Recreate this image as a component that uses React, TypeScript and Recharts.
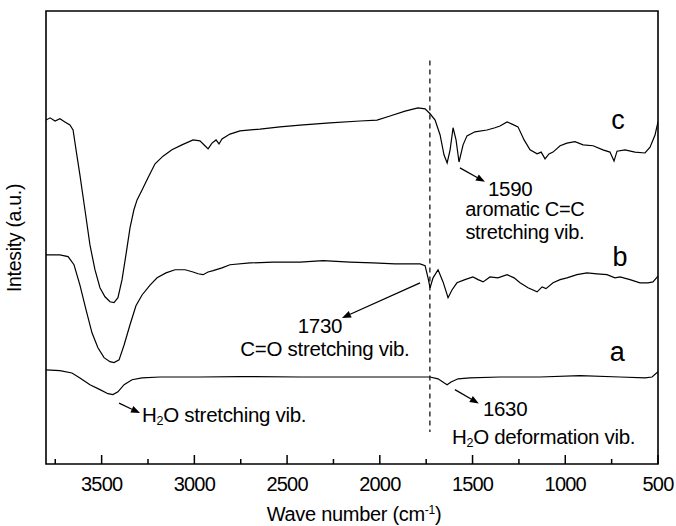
import React from "react"
import { LineChart, Line, XAxis, YAxis, ReferenceArea, ReferenceLine, ReferenceDot } from "recharts"

// FTIR spectra, wave number (cm-1) vs intensity (a.u., offset curves)
const wavenumbersC = [3800, 3778, 3751, 3725, 3698, 3671, 3654, 3638, 3617, 3590, 3563, 3536, 3509, 3482, 3455, 3433, 3412, 3390, 3369, 3347, 3326, 3309, 3282, 3250, 3212, 3169, 3121, 3067, 3007, 2970, 2943, 2926, 2905, 2883, 2867, 2851, 2808, 2754, 2646, 2538, 2430, 2269, 2107, 2015, 1945, 1864, 1794, 1756, 1729, 1702, 1675, 1654, 1637, 1621, 1605, 1589, 1573, 1551, 1530, 1487, 1422, 1379, 1352, 1314, 1287, 1255, 1222, 1190, 1152, 1130, 1109, 1088, 1066, 1028, 991, 948, 904, 850, 797, 759, 737, 721, 678, 624, 570, 543, 516, 500]
const intensityC = [75.8, 76.3, 75.6, 76.1, 75.4, 74.7, 73.6, 69.2, 63.6, 55.9, 48.1, 42.6, 38.6, 36.6, 35.5, 35.3, 36.4, 40.4, 45.9, 51.9, 55.9, 58.1, 60.3, 63.0, 66.1, 67.8, 69.2, 70.3, 71.4, 71.2, 70.1, 69.4, 70.7, 71.4, 70.5, 71.6, 72.7, 73.4, 73.8, 74.3, 74.7, 75.2, 75.6, 75.8, 76.7, 77.8, 78.5, 78.3, 77.2, 75.8, 72.5, 68.1, 66.3, 69.2, 74.1, 71.4, 66.5, 70.3, 72.3, 73.2, 73.6, 74.1, 74.5, 75.4, 74.9, 74.3, 71.4, 69.2, 68.3, 68.7, 67.2, 68.3, 68.7, 70.1, 70.7, 71.0, 70.3, 70.1, 69.2, 68.7, 66.7, 68.9, 69.2, 68.7, 68.5, 69.8, 72.5, 75.4]

const wavenumbersB = [3800, 3725, 3681, 3649, 3617, 3584, 3552, 3520, 3487, 3455, 3433, 3406, 3379, 3347, 3315, 3282, 3239, 3201, 3153, 3104, 3050, 3007, 2980, 2953, 2926, 2899, 2851, 2808, 2700, 2576, 2430, 2306, 2161, 2037, 1918, 1783, 1756, 1740, 1729, 1713, 1686, 1659, 1632, 1611, 1584, 1541, 1498, 1470, 1443, 1406, 1363, 1314, 1276, 1244, 1201, 1152, 1125, 1104, 1066, 1028, 991, 937, 883, 829, 775, 732, 705, 651, 597, 554, 527, 500]
const intensityB = [45.9, 45.9, 45.5, 43.7, 39.2, 33.7, 28.6, 25.3, 23.1, 22.2, 22.0, 22.6, 25.9, 30.4, 34.6, 37.0, 39.2, 40.8, 41.9, 42.6, 42.6, 42.1, 41.7, 41.5, 42.1, 42.4, 43.0, 43.7, 44.1, 44.3, 44.3, 44.6, 44.3, 44.1, 43.9, 43.9, 43.5, 40.8, 38.6, 40.8, 42.6, 39.9, 36.4, 38.1, 39.7, 40.4, 41.0, 40.4, 39.9, 41.0, 40.8, 41.5, 40.8, 39.7, 38.6, 37.7, 38.8, 38.4, 39.7, 40.4, 40.8, 41.5, 41.9, 41.7, 41.5, 40.8, 41.0, 40.4, 39.7, 39.7, 39.9, 41.2]

const wavenumbersA = [3800, 3725, 3660, 3617, 3563, 3509, 3466, 3439, 3412, 3379, 3336, 3282, 3185, 2970, 2754, 2430, 2107, 1783, 1729, 1686, 1654, 1637, 1616, 1578, 1514, 1352, 1136, 921, 705, 570, 532, 500]
const intensityA = [20.4, 20.2, 19.7, 18.6, 17.1, 16.0, 15.1, 14.9, 15.5, 17.1, 18.2, 18.6, 18.8, 18.8, 18.9, 18.8, 18.8, 18.8, 18.8, 18.4, 17.5, 17.1, 17.7, 18.4, 18.6, 18.8, 18.8, 19.1, 18.8, 18.6, 18.8, 20.0]

const xTicks = [3750, 3500, 3250, 3000, 2750, 2500, 2250, 2000, 1750, 1500, 1250, 1000, 750, 500]

const toSeries = (wn: number[], v: number[]) => wn.map((w, i) => ({ wn: w, v: v[i] }))
const seriesA = toSeries(wavenumbersA, intensityA)
const seriesB = toSeries(wavenumbersB, intensityB)
const seriesC = toSeries(wavenumbersC, intensityC)

const W = 676
const H = 526
const MARGIN = { top: 11, right: 18, bottom: 22, left: 46 }
const X_AXIS_H = 40
const PLOT_BOTTOM = H - MARGIN.bottom - X_AXIS_H
const FONT = "'Liberation Sans', Arial, sans-serif"

function Tick(props: any) {
  const { x, payload } = props
  const major = payload.value % 500 === 0
  return (
    <g>
      <line x1={x} x2={x} y1={PLOT_BOTTOM} y2={PLOT_BOTTOM - (major ? 9 : 5)} stroke="#000" strokeWidth={1.5} />
      {major && (
        <text x={x} y={PLOT_BOTTOM + 27} textAnchor="middle" fontFamily={FONT} fontSize={20} letterSpacing={-0.8} fill="#000">
          {payload.value}
        </text>
      )}
    </g>
  )
}

function arrow(props: any) {
  const { x1, y1, x2, y2 } = props
  const a = Math.atan2(y2 - y1, x2 - x1)
  const len = 9
  const w = 3.5
  const bx = x2 - len * Math.cos(a)
  const by = y2 - len * Math.sin(a)
  const p1 = `${bx + w * Math.sin(a)},${by - w * Math.cos(a)}`
  const p2 = `${bx - w * Math.sin(a)},${by + w * Math.cos(a)}`
  return (
    <g>
      <line x1={x1} y1={y1} x2={bx} y2={by} stroke="#000" strokeWidth={1.3} />
      <polygon points={`${x2},${y2} ${p1} ${p2}`} fill="#000" />
    </g>
  )
}

const textShape = (content: React.ReactNode, anchor: string, size = 20.5) => (p: any) => (
  <text x={p.cx} y={p.cy} textAnchor={anchor} fontFamily={FONT} fontSize={size} letterSpacing={-0.3} fill="#000">
    {content}
  </text>
)

const letterShape = (s: string) => (p: any) => (
  <text x={p.cx} y={p.cy} textAnchor="middle" dominantBaseline="central" fontFamily={FONT} fontSize={27} fill="#000">
    {s}
  </text>
)

const h2o = (rest: string) => (
  <>
    H<tspan fontSize={12.5} dy={3}>2</tspan><tspan dy={-3}>{rest}</tspan>
  </>
)

export default function App() {
  return (
    <div style={{ position: "absolute", left: 0, top: 0, width: W, height: H, background: "#fff" }}>
      <LineChart width={W} height={H} margin={MARGIN}>
        <XAxis
          type="number"
          dataKey="wn"
          domain={[500, 3800]}
          reversed
          allowDataOverflow
          ticks={xTicks}
          interval={0}
          height={X_AXIS_H}
          axisLine={false}
          tickLine={false}
          tick={<Tick />}
        />
        <YAxis hide type="number" domain={[-0.5, 100]} allowDataOverflow />
        <ReferenceArea x1={3800} x2={500} y1={-0.5} y2={100} stroke="#000" strokeWidth={1.6} fill="none" fillOpacity={0} />
        <ReferenceLine segment={[{ x: 1730, y: 89 }, { x: 1730, y: 6.6 }]} stroke="#000" strokeWidth={1.2} strokeDasharray="5 4" />

        <Line data={seriesA} dataKey="v" stroke="#000" strokeWidth={1.2} dot={false} isAnimationActive={false} />
        <Line data={seriesB} dataKey="v" stroke="#000" strokeWidth={1.2} dot={false} isAnimationActive={false} />
        <Line data={seriesC} dataKey="v" stroke="#000" strokeWidth={1.2} dot={false} isAnimationActive={false} />

        <ReferenceDot x={716} y={75.8} r={1} shape={letterShape("c")} />
        <ReferenceDot x={705} y={45.5} r={1} shape={letterShape("b")} />
        <ReferenceDot x={720} y={24.3} r={1} shape={letterShape("a")} />

        <ReferenceLine segment={[{ x: 1568, y: 65.2 }, { x: 1433, y: 62.1 }]} shape={arrow} />
        <ReferenceDot x={1417} y={59.0} r={1} shape={textShape("1590", "start")} />
        <ReferenceDot x={1218} y={54.6} r={1} shape={textShape("aromatic C=C", "middle", 20)} />
        <ReferenceDot x={1218} y={49.4} r={1} shape={textShape("stretching vib.", "middle", 20)} />

        <ReferenceLine segment={[{ x: 1783, y: 39.7 }, { x: 2204, y: 31.9 }]} shape={arrow} />
        <ReferenceDot x={2323} y={28.5} r={1} shape={textShape("1730", "middle")} />
        <ReferenceDot x={2296} y={23.5} r={1} shape={textShape("C=O stretching vib.", "middle")} />

        <ReferenceLine segment={[{ x: 3406, y: 13.0 }, { x: 3293, y: 10.8 }]} shape={arrow} />
        <ReferenceDot x={3282} y={8.8} r={1} shape={textShape(h2o("O stretching vib."), "start")} />

        <ReferenceLine segment={[{ x: 1595, y: 16.0 }, { x: 1466, y: 12.9 }]} shape={arrow} />
        <ReferenceDot x={1444} y={10.1} r={1} shape={textShape("1630", "start")} />
        <ReferenceDot x={1611} y={3.9} r={1} shape={textShape(h2o("O deformation vib."), "start")} />
      </LineChart>
      <svg width={W} height={H} style={{ position: "absolute", left: 0, top: 0, pointerEvents: "none" }}>
        <text x={354} y={521} textAnchor="middle" fontFamily={FONT} fontSize={20} letterSpacing={-0.3} fill="#000">
          Wave number (cm<tspan fontSize={12} dy={-7}>-1</tspan><tspan dy={7}>)</tspan>
        </text>
        <text x={0} y={0} transform="translate(21,238) rotate(-90)" textAnchor="middle" fontFamily={FONT} fontSize={19.5} letterSpacing={-0.3} fill="#000">
          Intesity (a.u.)
        </text>
      </svg>
    </div>
  )
}
